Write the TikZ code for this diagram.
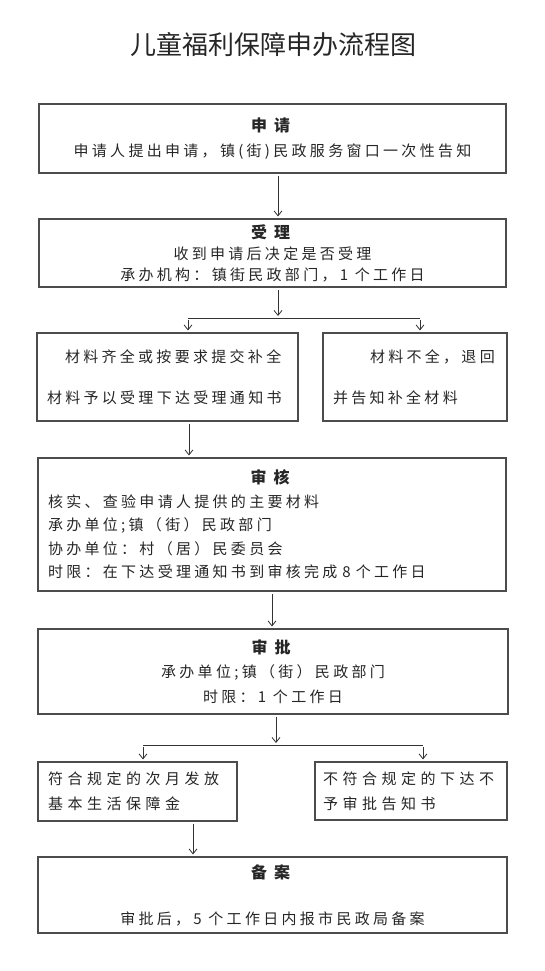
\documentclass[tikz,border=0pt]{standalone}
\usepackage{fontspec}
\setmainfont{Noto Sans CJK SC}[LetterSpace=22]
\newfontfamily\titlefont{Noto Sans CJK SC}
\usetikzlibrary{arrows.meta, positioning}
\tikzset{
	box/.style ={rectangle, draw=black!70, line width=1.1pt, inner sep=0pt, text=black!85, align=center},
	lbox/.style={rectangle, draw=black!70, line width=1.1pt, inner ysep=0pt, inner xsep=10pt, text=black!85, align=left},
	arr/.style ={-{Straight Barb[length=5pt, width=8pt]}, line width=0.8pt, draw=black!80, shorten >=2pt, shorten <=2pt},
	lnk/.style ={line width=0.8pt, draw=black!80},
}
\newcommand{\hd}[2]{\textbf{\fontsize{16}{16}\selectfont #1\hspace{7pt}#2}}

\begin{document}
\begin{tikzpicture}[x=1pt, y=-1pt]
	\useasboundingbox (0,0) rectangle (545,971);
	\node[text=black!85, font=\titlefont\fontsize{26}{26}\selectfont] (title) at (273,45) {儿童福利保障申办流程图};
	% main steps
	\node[box, minimum width=467pt, minimum height=69pt, font=\fontsize{15}{25}\selectfont] (sq) at (272.5,138.5) {\hd{申}{请}\\申请人提出申请，镇(街)民政服务窗口一次性告知};
	\node[box, minimum width=467pt, minimum height=68pt, font=\fontsize{15}{21}\selectfont] (sl) at (272.5,253) {\hd{受}{理}\\收到申请后决定是否受理\\承办机构：镇街民政部门，1 个工作日};
	\node[lbox, minimum width=261pt, minimum height=88pt, text width=241pt, font=\fontsize{15}{41}\selectfont] (qq) at (167.5,377) {\hspace*{18pt}材料齐全或按要求提交补全\\材料予以受理下达受理通知书};
	\node[lbox, minimum width=184pt, minimum height=88pt, text width=164pt, font=\fontsize{15}{41}\selectfont] (bq) at (415,377) {\hspace*{37pt}材料不全，退回\\并告知补全材料};
	\node[lbox, minimum width=468pt, minimum height=133pt, text width=448pt, font=\fontsize{15}{23.5}\selectfont] (sh) at (272,524.5) {\makebox[448pt]{\hd{审}{核}}\\核实、查验申请人提供的主要材料\\承办单位;镇（街）民政部门\\协办单位：村（居）民委员会\\时限：在下达受理通知书到审核完成 8 个工作日};
	\node[box, minimum width=470pt, minimum height=85pt, font=\fontsize{15}{24.5}\selectfont] (sp) at (273,671.5) {\hd{审}{批}\\承办单位;镇（街）民政部门\\时限：1 个工作日};
	\node[lbox, minimum width=199pt, minimum height=59pt, text width=179pt, font=\fontsize{15}{25}\selectfont\addfontfeature{LetterSpace=30}] (fh) at (137.5,791.5) {符合规定的次月发放\\基本生活保障金};
	\node[lbox, inner xsep=8pt, minimum width=192pt, minimum height=58pt, text width=176pt, font=\fontsize{15}{25}\selectfont\addfontfeature{LetterSpace=30}] (bfh) at (411,791) {不符合规定的下达不\\予审批告知书};
	\node[box, minimum width=469pt, minimum height=76pt, font=\fontsize{15}{46}\selectfont] (ba) at (272.5,895) {\hd{备}{案}\\审批后，5 个工作日内报市民政局备案};
	% branch points
	\coordinate (jl) at (188,318);
	\coordinate (jr) at (420,318);
	\coordinate (q3) at (189,0);
	\coordinate (j2) at (276,745);
	\coordinate (kl) at (143,745);
	\coordinate (kr) at (423,745);
	\coordinate (f3) at (193,0);
	% connectors
	\draw[arr] ([xshift=5.5pt]sq.south) -- ([xshift=5.5pt]sl.north);
	\draw[arr] ([xshift=5.5pt]sl.south) -- ([xshift=5.5pt]sl.south |- jl);
	\draw[lnk] (jl) -- (jr);
	\draw[arr] (jl) -- (jl |- qq.north);
	\draw[arr] (jr) -- (jr |- bq.north);
	\draw[arr] (q3 |- qq.south) -- (q3 |- sh.north);
	\draw[arr] (sh.south) -- (sh.south |- sp.north);
	\draw[arr] (j2 |- sp.south) -- (j2);
	\draw[lnk] (kl) -- (kr);
	\draw[arr] (kl) -- (kl |- fh.north);
	\draw[arr] (kr) -- (kr |- bfh.north);
	\draw[arr] (f3 |- fh.south) -- (f3 |- ba.north);
\end{tikzpicture}
\end{document}
